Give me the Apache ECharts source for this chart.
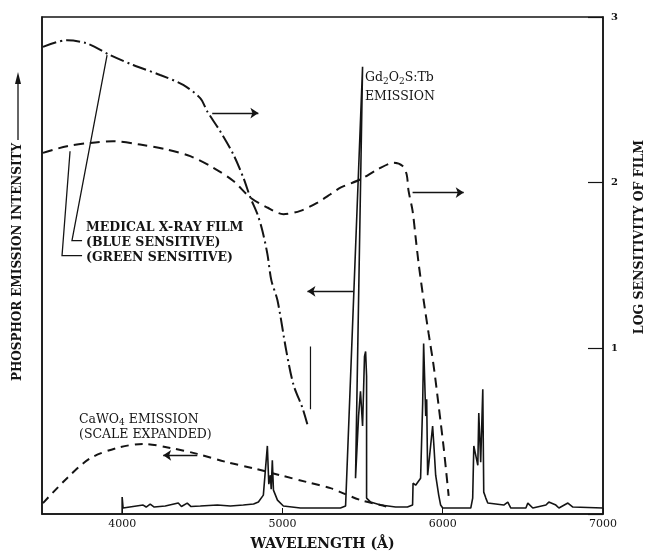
<!DOCTYPE html>
<html>
<head>
<meta charset="utf-8">
<script src="https://cdn.jsdelivr.net/npm/echarts@6/dist/echarts.min.js"></script>
<style>
  html, body { margin: 0; padding: 0; background: #fff; }
  #chart { width: 655px; height: 556px; }
</style>
</head>
<body>
<div id="chart"></div>
<script>
// wavelength ticks (Å)
const X_TICKS = [4000, 5000, 6000, 7000];

// film curves, [wavelength, log sensitivity]
const blueFilm = [
  [3506, 2.82], [3656, 2.86], [3781, 2.84], [3925, 2.77], [4069, 2.71], [4237, 2.65],
  [4381, 2.59], [4487, 2.51], [4531, 2.43], [4612, 2.31], [4694, 2.17], [4756, 2.03],
  [4800, 1.91], [4844, 1.81], [4875, 1.71], [4906, 1.57], [4931, 1.41], [4969, 1.29],
  [5025, 0.98], [5069, 0.78], [5125, 0.64], [5156, 0.54]
];
const greenFilm = [
  [3506, 2.18], [3656, 2.22], [3800, 2.24], [3944, 2.25], [4112, 2.23], [4281, 2.20],
  [4425, 2.16], [4569, 2.09], [4694, 2.01], [4800, 1.91], [4906, 1.85], [5006, 1.81],
  [5112, 1.83], [5219, 1.88], [5300, 1.93], [5362, 1.97], [5487, 2.02], [5594, 2.08],
  [5694, 2.12], [5750, 2.10], [5775, 2.05], [5787, 1.95], [5812, 1.83], [5831, 1.67],
  [5850, 1.51], [5881, 1.29], [5912, 1.09], [5944, 0.89], [5975, 0.65], [6006, 0.40],
  [6037, 0.11]
];

// phosphor emission, [wavelength, relative intensity]
const cawo4 = [
  [3506, 2.2], [3656, 7.2], [3800, 11.2], [3969, 13.3], [4131, 14.1], [4300, 13.3],
  [4469, 12.1], [4656, 10.4], [4819, 9.2], [4987, 7.8], [5156, 6.4], [5300, 5.2],
  [5362, 4.4], [5487, 2.8], [5612, 1.8], [5656, 1.4]
];
const gdSpectrum = [
  [4000, 0], [4000, 3.4], [4006, 1.2], [4131, 1.8], [4150, 1.4], [4175, 2.0], [4200, 1.4],
  [4269, 1.6], [4350, 2.2], [4370, 1.5], [4406, 2.2], [4430, 1.5], [4487, 1.6], [4594, 1.8],
  [4675, 1.6], [4756, 1.8], [4820, 2.0], [4850, 2.4], [4881, 3.8], [4906, 13.7], [4915, 6],
  [4925, 7.8], [4930, 5], [4937, 10.8], [4944, 4.8], [4969, 2.8], [5006, 1.6], [5112, 1.2],
  [5362, 1.2], [5394, 1.6], [5500, 90], [5506, 90], [5456, 7.2], [5475, 19.7], [5487, 24.7],
  [5500, 17.7], [5512, 31.7], [5519, 32.7], [5525, 27.7], [5525, 3.2], [5550, 2.4],
  [5612, 1.8], [5706, 1.4], [5780, 1.4], [5812, 1.8], [5815, 6.2], [5831, 5.8], [5862, 7.2],
  [5875, 22.3], [5881, 34.3], [5894, 19.7], [5900, 23.1], [5906, 7.8], [5937, 17.7],
  [5944, 14.3], [5956, 7.8], [5975, 3.8], [5987, 1.8], [6000, 1.2], [6175, 1.2],
  [6187, 3.2], [6194, 13.7], [6206, 14.1], [6219, 9.8], [6225, 20.3], [6237, 10.4],
  [6250, 25.1], [6256, 4.4], [6269, 3.2], [6281, 2.2], [6381, 1.8], [6406, 2.4], [6425, 1.2],
  [6519, 1.2], [6531, 2.2], [6562, 1.2], [6644, 1.8], [6662, 2.4], [6706, 1.8], [6725, 1.2],
  [6781, 2.2], [6812, 1.4], [7000, 1.2]
];
// short vertical mark under the blue curve
const markBar = [[5175, 33.7], [5175, 21.1]];

// arrows pointing each curve to its axis
const arrowsRight = [            // on log-sensitivity axis
  [[4562, 2.42], [4850, 2.42]],
  [[5812, 1.94], [6131, 1.94]]
];
const arrowsLeft = [             // on intensity axis
  [[5444, 44.8], [5156, 44.8]],
  [[4469, 11.8], [4256, 11.8]]
];
// leaders from the film label to each curve
const leaders = [
  [[3750, 1.65], [3687, 1.65], [3906, 2.77]],
  [[3750, 1.56], [3625, 1.56], [3675, 2.19]]
];

const INK = '#141414';
const FONT = 'DejaVu Serif';

const chart = echarts.init(document.getElementById('chart'));

function lineSeries(data, yIdx, dash, width) {
  return {
    type: 'line',
    data: data,
    yAxisIndex: yIdx,
    showSymbol: false,
    smooth: dash ? 0.3 : false,
    silent: true,
    animation: false,
    lineStyle: { color: INK, width: width, type: dash || 'solid' }
  };
}

function arrowSeries(coords, yIdx, polyline) {
  return {
    type: 'lines',
    coordinateSystem: 'cartesian2d',
    yAxisIndex: yIdx,
    polyline: polyline,
    symbol: ['none', 'arrow'],
    symbolSize: 8,
    silent: true,
    animation: false,
    lineStyle: { color: INK, width: 1.3, opacity: 1 },
    data: coords.map(c => ({ coords: c }))
  };
}

chart.setOption({
  backgroundColor: '#fff',
  animation: false,
  grid: {
    left: 42, right: 52, top: 17, bottom: 35,
    show: true, borderColor: INK, borderWidth: 1.5
  },
  xAxis: {
    type: 'value',
    min: 3500, max: 7000,
    name: 'WAVELENGTH (Å)',
    nameLocation: 'middle',
    nameGap: 23,
    nameTextStyle: { fontFamily: FONT, fontWeight: 'bold', fontSize: 14, color: INK },
    axisLine: { lineStyle: { color: INK, width: 1.5 } },
    axisTick: { inside: true, length: 6, customValues: X_TICKS, lineStyle: { color: INK } },
    axisLabel: {
      customValues: X_TICKS, fontFamily: FONT, fontSize: 11, color: INK, margin: 5,
      formatter: v => String(v)
    },
    splitLine: { show: false }
  },
  yAxis: [
    {
      type: 'value', min: 0, max: 100,
      axisLine: { show: true, lineStyle: { color: INK, width: 1.5 } },
      axisTick: { show: false },
      axisLabel: { show: false },
      splitLine: { show: false }
    },
    {
      type: 'value', min: 0, max: 3, interval: 1, position: 'right',
      axisLine: { show: true, lineStyle: { color: INK, width: 1.5 } },
      axisTick: { inside: true, length: 15, lineStyle: { color: INK, width: 1.2 } },
      axisLabel: {
        fontFamily: FONT, fontWeight: 'bold', fontSize: 10, color: INK, margin: 8,
        formatter: v => (v === 0 ? '' : v)
      },
      splitLine: { show: false }
    }
  ],
  series: [
    lineSeries(blueFilm, 1, [14, 4, 2, 4], 2),
    lineSeries(greenFilm, 1, [10, 6], 2),
    lineSeries(cawo4, 0, [8, 6], 2),
    lineSeries(gdSpectrum, 0, null, 1.6),
    lineSeries(markBar, 0, null, 1.2),
    arrowSeries(arrowsRight, 1, false),
    arrowSeries(arrowsLeft, 0, false),
    arrowSeries(leaders, 1, true)
  ],
  graphic: [
    {
      type: 'text', left: 86, top: 220,
      style: {
        text: 'MEDICAL X-RAY FILM\n(BLUE SENSITIVE)\n(GREEN SENSITIVE)',
        font: 'bold 12.5px "DejaVu Serif"', lineHeight: 15, fill: INK
      }
    },
    {
      type: 'text', left: 365, top: 71,
      style: {
        text: '{n|Gd}{s|2}{n|O}{s|2}{n|S:Tb}\n{n|EMISSION}',
        rich: {
          n: { font: '12.5px "DejaVu Serif"', fill: INK, lineHeight: 19 },
          s: { font: '9px "DejaVu Serif"', fill: INK, padding: [8, 0, 0, 0] }
        }
      }
    },
    {
      type: 'text', left: 79, top: 413,
      style: {
        text: '{n|CaWO}{s|4}{n| EMISSION}\n{n|(SCALE EXPANDED)}',
        rich: {
          n: { font: '12.5px "DejaVu Serif"', fill: INK, lineHeight: 15 },
          s: { font: '9px "DejaVu Serif"', fill: INK, padding: [7, 0, 0, 0] }
        }
      }
    },
    {
      type: 'text', x: 18, y: 262, rotation: Math.PI / 2,
      style: {
        text: 'PHOSPHOR EMISSION INTENSITY',
        font: 'bold 12px "DejaVu Serif"', fill: INK,
        align: 'center', verticalAlign: 'middle'
      }
    },
    {
      type: 'line', shape: { x1: 18, y1: 140, x2: 18, y2: 82 },
      style: { stroke: INK, lineWidth: 1.3 }
    },
    {
      type: 'polygon', shape: { points: [[18, 72], [15, 84], [21, 84]] },
      style: { fill: INK }
    },
    {
      type: 'text', x: 640, y: 237, rotation: Math.PI / 2,
      style: {
        text: 'LOG SENSITIVITY OF FILM',
        font: 'bold 12.5px "DejaVu Serif"', fill: INK,
        align: 'center', verticalAlign: 'middle'
      }
    }
  ]
});
</script>
</body>
</html>
